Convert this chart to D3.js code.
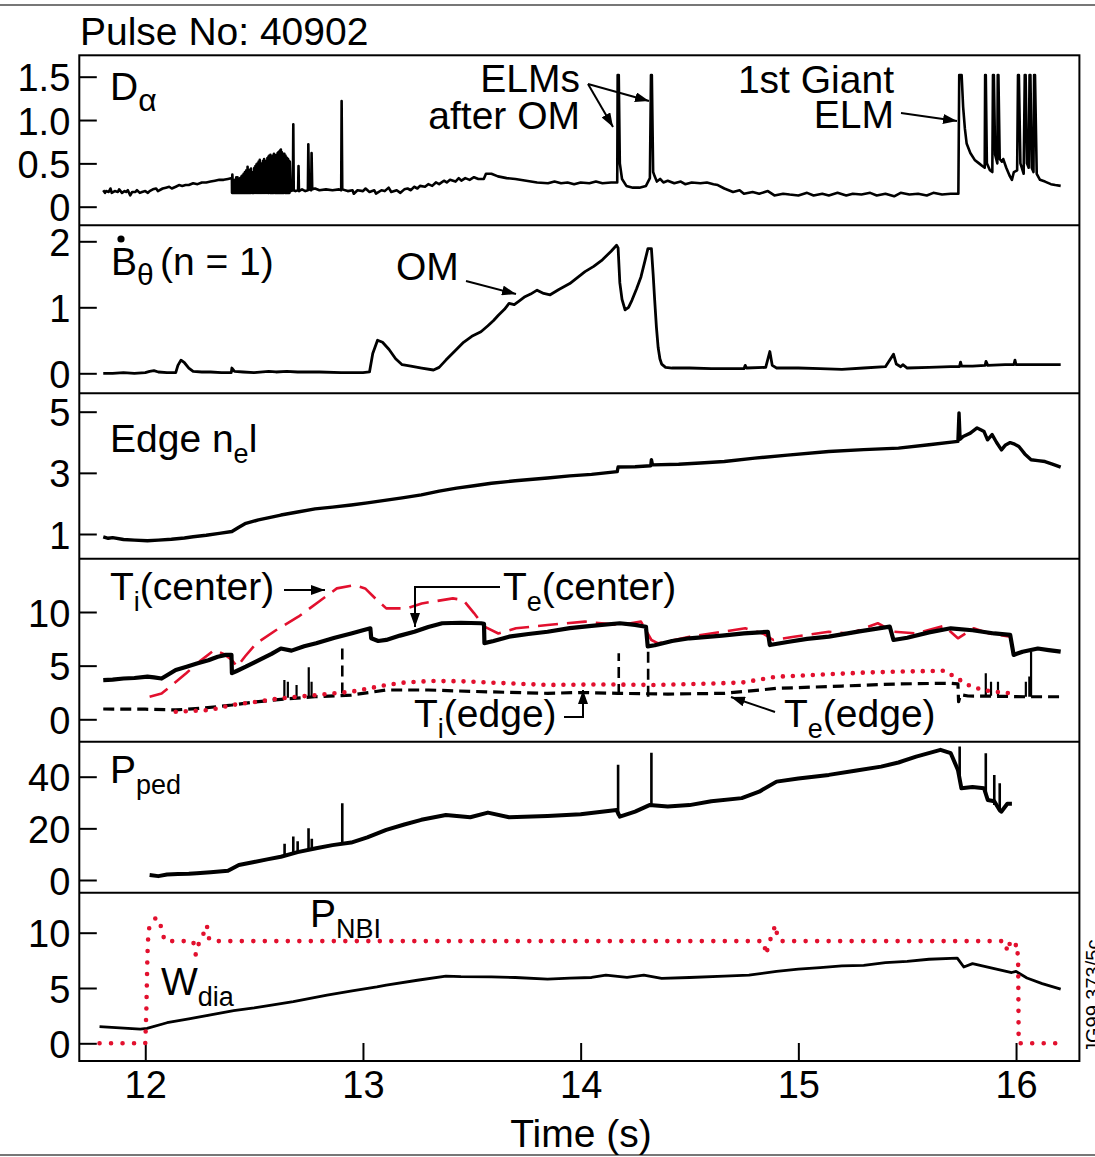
<!DOCTYPE html>
<html><head><meta charset="utf-8">
<script src="https://cdn.jsdelivr.net/npm/d3@7"></script>
<style>
body{margin:0;background:#fff;}
svg text{font-family:"Liberation Sans",Arial,Helvetica,sans-serif;fill:#000;}
</style></head><body>
<svg id="chart" width="1095" height="1157"></svg>
<script>
// ---------- data (time in s) ----------
const timeTicks = [12, 13, 14, 15, 16];
const dAlphaTicks = [0, 0.5, 1.0, 1.5];
const bDotTicks = [0, 1, 2];
const nelTicks = [1, 3, 5];
const tempTicks = [0, 5, 10];
const pPedTicks = [0, 20, 40];
const powerTicks = [0, 5, 10];

// D-alpha trace before the ELM burst
const dAlphaPre = [[11.807,0.19],[11.815,0.16],[11.82,0.18],[11.832,0.17],[11.84,0.21],[11.846,0.16],[11.86,0.18],[11.874,0.17],[11.88,0.20],[11.893,0.16],[11.905,0.18],[11.912,0.17],[11.92,0.19],[11.931,0.13],[11.94,0.17],[11.955,0.17],[11.962,0.19],[11.975,0.16],[11.985,0.17],[12.00,0.18],[12.012,0.16],[12.02,0.18],[12.035,0.20],[12.05,0.21],[12.058,0.18],[12.08,0.21],[12.095,0.22],[12.11,0.23],[12.122,0.21],[12.14,0.23],[12.155,0.25],[12.17,0.24],[12.185,0.25],[12.20,0.25],[12.22,0.27],[12.24,0.26],[12.26,0.28],[12.28,0.28],[12.30,0.29],[12.32,0.30],[12.34,0.31],[12.36,0.31],[12.38,0.32],[12.398,0.33]];
// dense small ELMs: [time, peak], base level dAlphaBurstBase
const dAlphaBurstBase = 0.16;
const dAlphaBurst = [[12.400,0.37],[12.406,0.30],[12.412,0.31],[12.418,0.34],[12.424,0.34],[12.430,0.30],[12.436,0.33],[12.442,0.35],[12.446,0.36],[12.452,0.38],[12.458,0.40],[12.464,0.42],[12.470,0.46],[12.474,0.41],[12.478,0.41],[12.482,0.43],[12.486,0.44],[12.491,0.40],[12.496,0.40],[12.501,0.45],[12.506,0.47],[12.511,0.49],[12.516,0.50],[12.521,0.52],[12.526,0.54],[12.531,0.50],[12.536,0.50],[12.541,0.53],[12.546,0.55],[12.551,0.53],[12.556,0.52],[12.561,0.56],[12.566,0.58],[12.570,0.59],[12.575,0.60],[12.579,0.57],[12.583,0.55],[12.587,0.59],[12.591,0.61],[12.596,0.60],[12.600,0.58],[12.604,0.60],[12.608,0.62],[12.612,0.63],[12.616,0.64],[12.620,0.65],[12.623,0.66],[12.627,0.63],[12.631,0.60],[12.635,0.61],[12.639,0.61],[12.644,0.59],[12.648,0.57],[12.652,0.56],[12.656,0.55],[12.660,0.53],[12.664,0.52]];
// D-alpha trace after the burst
const dAlphaPost = [[12.668,0.18],[12.678,0.19],[12.680,0.95],[12.682,0.19],[12.69,0.18],[12.702,0.19],[12.704,0.47],[12.706,0.18],[12.72,0.20],[12.735,0.18],[12.747,0.19],[12.749,0.72],[12.752,0.20],[12.762,0.19],[12.764,0.62],[12.767,0.20],[12.78,0.21],[12.80,0.19],[12.83,0.20],[12.86,0.19],[12.89,0.20],[12.900,0.19],[12.902,1.22],[12.905,0.20],[12.93,0.18],[12.952,0.19],[12.958,0.15],[12.975,0.19],[13.00,0.18],[13.012,0.21],[13.03,0.17],[13.052,0.19],[13.06,0.15],[13.085,0.19],[13.10,0.18],[13.118,0.22],[13.13,0.17],[13.155,0.19],[13.172,0.16],[13.19,0.20],[13.205,0.21],[13.22,0.19],[13.235,0.23],[13.25,0.21],[13.262,0.24],[13.285,0.23],[13.30,0.26],[13.318,0.24],[13.335,0.28],[13.35,0.26],[13.372,0.30],[13.385,0.28],[13.40,0.31],[13.425,0.29],[13.44,0.33],[13.452,0.30],[13.47,0.33],[13.49,0.31],[13.51,0.34],[13.53,0.32],[13.555,0.32],[13.565,0.38],[13.59,0.38],[13.62,0.35],[13.66,0.33],[13.70,0.32],[13.75,0.30],[13.80,0.28],[13.85,0.27],[13.88,0.29],[13.91,0.27],[13.94,0.28],[13.97,0.26],[14.00,0.28],[14.04,0.27],[14.07,0.29],[14.10,0.27],[14.14,0.28],[14.168,0.28],[14.170,1.52],[14.175,1.52],[14.180,0.50],[14.19,0.32],[14.21,0.24],[14.24,0.22],[14.27,0.22],[14.30,0.24],[14.318,0.33],[14.323,1.52],[14.327,1.52],[14.333,0.40],[14.34,0.35],[14.35,0.29],[14.365,0.32],[14.38,0.28],[14.40,0.30],[14.43,0.27],[14.46,0.29],[14.48,0.26],[14.51,0.28],[14.55,0.27],[14.58,0.28],[14.61,0.26],[14.63,0.25],[14.66,0.21],[14.70,0.17],[14.73,0.19],[14.75,0.15],[14.79,0.17],[14.82,0.15],[14.86,0.18],[14.89,0.13],[14.93,0.15],[14.96,0.14],[15.00,0.13],[15.04,0.16],[15.07,0.13],[15.11,0.15],[15.14,0.13],[15.18,0.16],[15.22,0.13],[15.25,0.15],[15.29,0.14],[15.33,0.16],[15.36,0.13],[15.40,0.15],[15.44,0.12],[15.47,0.16],[15.51,0.14],[15.55,0.15],[15.59,0.13],[15.62,0.16],[15.66,0.14],[15.70,0.15],[15.735,0.15],[15.739,1.52],[15.750,1.52],[15.757,1.15],[15.765,0.90],[15.773,0.73],[15.79,0.62],[15.81,0.54],[15.83,0.50],[15.845,0.47],[15.856,0.45],[15.858,1.52],[15.861,1.52],[15.866,0.50],[15.88,0.42],[15.891,0.40],[15.894,1.52],[15.898,1.52],[15.904,0.60],[15.914,0.50],[15.916,1.52],[15.919,1.52],[15.925,0.55],[15.935,0.52],[15.941,0.55],[15.955,0.45],[15.97,0.36],[15.981,0.31],[15.99,0.40],[16.005,0.42],[16.009,1.52],[16.013,1.52],[16.020,0.50],[16.035,0.38],[16.040,1.52],[16.044,1.52],[16.050,0.50],[16.058,0.45],[16.062,1.52],[16.066,1.52],[16.072,0.45],[16.080,0.40],[16.083,1.52],[16.087,1.52],[16.095,0.38],[16.11,0.31],[16.133,0.29],[16.16,0.26],[16.18,0.25],[16.205,0.24]];

// n = 1 magnetic perturbation
const bDot = [[11.807,0.0],[11.85,0.0],[11.9,0.01],[11.95,0.0],[12.0,0.01],[12.02,0.03],[12.04,0.04],[12.06,0.02],[12.1,0.01],[12.14,0.01],[12.15,0.12],[12.164,0.2],[12.18,0.16],[12.2,0.08],[12.22,0.03],[12.26,0.02],[12.3,0.02],[12.35,0.01],[12.395,0.01],[12.398,0.08],[12.41,0.03],[12.45,0.02],[12.5,0.01],[12.567,0.03],[12.6,0.02],[12.65,0.03],[12.7,0.02],[12.8,0.02],[12.9,0.01],[13.0,0.01],[13.03,0.02],[13.045,0.3],[13.067,0.5],[13.09,0.47],[13.12,0.36],[13.15,0.22],[13.18,0.13],[13.22,0.11],[13.27,0.08],[13.324,0.05],[13.35,0.09],[13.381,0.2],[13.42,0.33],[13.462,0.47],[13.5,0.56],[13.542,0.63],[13.574,0.72],[13.6,0.8],[13.622,0.88],[13.65,0.97],[13.671,1.06],[13.695,1.04],[13.72,1.1],[13.744,1.16],[13.77,1.2],[13.8,1.26],[13.83,1.21],[13.86,1.19],[13.9,1.27],[13.95,1.36],[14.02,1.54],[14.06,1.62],[14.1,1.72],[14.14,1.85],[14.165,1.94],[14.172,1.9],[14.18,1.37],[14.19,1.12],[14.204,0.96],[14.22,1.0],[14.236,1.11],[14.257,1.28],[14.277,1.46],[14.295,1.7],[14.309,1.89],[14.325,1.89],[14.333,1.5],[14.34,1.11],[14.348,0.7],[14.356,0.39],[14.364,0.22],[14.372,0.14],[14.39,0.09],[14.42,0.08],[14.5,0.08],[14.6,0.07],[14.7,0.07],[14.75,0.07],[14.756,0.12],[14.762,0.08],[14.85,0.09],[14.869,0.33],[14.88,0.12],[14.9,0.08],[15.0,0.08],[15.1,0.07],[15.2,0.06],[15.3,0.08],[15.4,0.1],[15.437,0.29],[15.45,0.14],[15.47,0.1],[15.48,0.13],[15.5,0.08],[15.6,0.09],[15.7,0.1],[15.74,0.1],[15.745,0.17],[15.75,0.11],[15.8,0.11],[15.858,0.12],[15.862,0.18],[15.87,0.12],[15.95,0.13],[15.99,0.13],[15.995,0.2],[16.0,0.13],[16.1,0.13],[16.205,0.13]];

// edge line-integrated density
const edgeNel = [[11.807,0.91],[11.83,0.86],[11.85,0.88],[11.9,0.82],[11.95,0.80],[12.01,0.78],[12.06,0.80],[12.12,0.83],[12.18,0.87],[12.22,0.91],[12.28,0.96],[12.34,1.02],[12.398,1.08],[12.43,1.22],[12.462,1.35],[12.52,1.46],[12.58,1.55],[12.623,1.62],[12.7,1.72],[12.78,1.82],[12.86,1.88],[12.946,1.95],[13.02,2.02],[13.1,2.1],[13.18,2.18],[13.268,2.28],[13.35,2.4],[13.43,2.5],[13.51,2.58],[13.59,2.66],[13.7,2.74],[13.848,2.83],[13.95,2.9],[14.05,2.95],[14.168,3.04],[14.172,3.19],[14.25,3.2],[14.322,3.23],[14.325,3.43],[14.33,3.26],[14.45,3.28],[14.55,3.32],[14.66,3.37],[14.8,3.48],[14.95,3.58],[15.14,3.70],[15.3,3.76],[15.46,3.81],[15.6,3.92],[15.733,4.03],[15.738,4.96],[15.743,4.1],[15.757,4.19],[15.79,4.3],[15.821,4.47],[15.84,4.4],[15.853,4.35],[15.869,4.08],[15.89,4.25],[15.91,4.0],[15.933,3.75],[15.95,3.9],[15.973,3.99],[15.99,3.95],[16.013,3.86],[16.04,3.62],[16.069,3.43],[16.1,3.4],[16.133,3.37],[16.17,3.28],[16.205,3.19]];

// central and edge temperatures
const teCenter = [[11.807,3.66],[11.85,3.7],[11.9,3.8],[11.95,3.85],[12.01,3.97],[12.04,3.9],[12.075,3.8],[12.1,4.1],[12.14,4.6],[12.19,4.9],[12.237,5.2],[12.29,5.5],[12.333,5.83],[12.37,6.0],[12.396,6.0],[12.398,4.3],[12.42,4.5],[12.462,4.9],[12.52,5.5],[12.58,6.1],[12.623,6.6],[12.672,6.4],[12.73,6.8],[12.785,7.08],[12.87,7.6],[12.946,8.0],[13.0,8.3],[13.034,8.48],[13.038,7.55],[13.07,7.3],[13.107,7.4],[13.17,7.8],[13.236,8.16],[13.3,8.6],[13.364,8.95],[13.45,9.0],[13.542,8.95],[13.556,8.9],[13.558,7.1],[13.6,7.3],[13.671,7.7],[13.76,7.95],[13.848,8.16],[13.95,8.5],[14.05,8.7],[14.18,8.95],[14.25,8.8],[14.30,8.63],[14.308,6.8],[14.34,6.9],[14.42,7.3],[14.5,7.55],[14.65,7.8],[14.75,8.0],[14.86,8.16],[14.869,6.92],[14.95,7.2],[15.04,7.5],[15.14,7.7],[15.28,8.2],[15.42,8.63],[15.437,7.39],[15.5,7.6],[15.6,8.1],[15.70,8.48],[15.8,8.3],[15.9,8.0],[15.973,7.86],[15.989,6.0],[16.03,6.3],[16.1,6.6],[16.15,6.45],[16.205,6.3]];
const tiCenter = [[12.02,2.1],[12.075,2.4],[12.13,3.3],[12.188,4.29],[12.25,5.4],[12.317,6.46],[12.36,6.1],[12.398,5.53],[12.422,4.9],[12.46,5.9],[12.51,7.08],[12.6,8.3],[12.703,9.56],[12.8,11.0],[12.88,12.2],[12.961,12.5],[13.01,12.2],[13.06,11.2],[13.107,10.34],[13.2,10.34],[13.27,10.8],[13.413,11.27],[13.461,11.1],[13.51,9.9],[13.558,8.63],[13.622,8.0],[13.703,8.48],[13.848,8.79],[14.02,9.1],[14.18,8.79],[14.277,9.1],[14.325,7.39],[14.356,7.08],[14.5,7.7],[14.756,8.48],[14.837,8.0],[14.885,7.39],[14.98,7.7],[15.14,8.16],[15.237,8.0],[15.365,8.95],[15.437,8.16],[15.541,8.0],[15.669,8.7],[15.733,7.55],[15.805,8.48],[15.877,8.0],[15.973,7.7]];
const tiEdge = [[12.14,0.71],[12.22,0.78],[12.30,0.87],[12.398,1.33],[12.5,1.6],[12.623,1.96],[12.785,2.26],[12.946,2.57],[13.02,2.85],[13.107,3.2],[13.2,3.45],[13.317,3.57],[13.45,3.55],[13.59,3.42],[13.848,3.2],[14.1,3.25],[14.34,3.2],[14.55,3.3],[14.74,3.42],[14.9,3.97],[15.14,4.2],[15.3,4.35],[15.46,4.44],[15.669,4.53],[15.717,3.97],[15.78,3.2],[15.845,2.73],[15.941,2.48],[15.989,2.42]];
const teEdge = [[11.807,0.96],[12.0,0.94],[12.14,0.87],[12.27,1.05],[12.398,1.33],[12.5,1.6],[12.623,1.86],[12.78,2.1],[12.946,2.26],[13.03,2.5],[13.107,2.73],[13.3,2.73],[13.5,2.6],[13.848,2.42],[14.0,2.5],[14.17,2.42],[14.4,2.35],[14.66,2.42],[14.9,2.88],[15.2,3.1],[15.46,3.3],[15.70,3.36],[15.733,3.3],[15.736,1.64],[15.745,2.3],[15.78,2.17],[15.9,2.15],[16.05,2.1],[16.205,2.1]];
// ELM spikes on the edge channels: [time, low, high]
const edgeSpikes = [[12.639,2.0,3.66],[12.655,2.0,3.5],[12.695,2.1,3.2],[12.751,2.1,4.85],[12.764,2.1,3.5],[15.861,2.2,4.29],[15.885,2.2,3.5],[15.917,2.2,3.5],[16.045,2.1,3.5],[16.061,2.1,4.0],[16.069,2.1,6.3]];
const edgeDropouts = [[12.905,2.4,6.77],[14.175,2.26,6.15],[14.31,2.1,6.8]];

// pedestal pressure
const pPed = [[12.02,1.9],[12.06,1.5],[12.1,2.1],[12.15,2.3],[12.2,2.4],[12.237,2.6],[12.3,3.0],[12.38,3.6],[12.43,5.8],[12.5,7.0],[12.56,8.0],[12.623,9.0],[12.7,10.8],[12.785,12.3],[12.86,13.5],[12.946,14.5],[13.02,16.5],[13.107,19.4],[13.19,21.5],[13.268,23.3],[13.381,25.2],[13.493,24.3],[13.574,26.1],[13.671,24.3],[13.848,24.8],[14.0,25.5],[14.165,27.1],[14.18,24.5],[14.25,26.5],[14.316,29],[14.4,28.5],[14.5,29],[14.6,30.5],[14.74,31.7],[14.82,34.2],[14.90,38.1],[15.0,39.3],[15.14,40.7],[15.26,42.3],[15.38,43.9],[15.46,45.5],[15.541,47.8],[15.653,50.4],[15.70,49.1],[15.733,42.6],[15.749,35.5],[15.8,36],[15.853,35.5],[15.87,31],[15.90,30.5],[15.925,27],[15.933,26.5],[15.96,29.5],[15.981,29.5]];
const pPedSpikes = [[12.64,9.2,14],[12.68,10,16.8],[12.70,10.5,15],[12.75,11.5,20],[12.765,11.8,16],[12.905,14,29.7],[14.172,25,44.6],[14.325,29,49.3],[15.741,40,51.7],[15.861,33,49.1],[15.90,29,40.7],[15.925,27,37.5]];

// stored energy and beam power
const wDia = [[11.79,1.5],[11.977,1.29],[12.008,1.35],[12.1,1.86],[12.2,2.2],[12.3,2.56],[12.406,2.95],[12.5,3.2],[12.58,3.45],[12.68,3.76],[12.835,4.36],[12.95,4.75],[13.064,5.1],[13.107,5.27],[13.25,5.7],[13.381,6.08],[13.45,6.02],[13.59,6.0],[13.7,5.95],[13.848,5.8],[13.95,5.9],[14.05,5.95],[14.116,6.17],[14.213,5.96],[14.29,6.17],[14.372,5.87],[14.5,5.95],[14.66,6.08],[14.773,6.17],[14.9,6.5],[15.0,6.7],[15.1,6.85],[15.2,7.0],[15.3,7.05],[15.4,7.3],[15.5,7.4],[15.6,7.6],[15.73,7.7],[15.76,6.9],[15.8,7.2],[15.9,6.75],[15.98,6.4],[16.0,6.5],[16.05,5.9],[16.12,5.4],[16.205,4.9]];
const pNbi = [[11.79,0],[12.0,0],[12.005,3],[12.01,8],[12.015,10.3],[12.03,10.8],[12.05,11.4],[12.07,10.7],[12.08,9.9],[12.09,9.24],[12.22,9.24],[12.232,8.0],[12.24,8.6],[12.25,9.3],[12.27,10.0],[12.283,10.7],[12.29,9.6],[12.3,9.24],[14.84,9.24],[14.853,8.0],[14.86,8.7],[14.875,9.6],[14.885,10.2],[14.895,10.7],[14.905,9.5],[14.92,9.24],[15.95,9.24],[15.96,8.3],[15.97,9.0],[15.98,8.5],[16.005,9.0],[16.01,7],[16.012,0],[16.21,0]];

// ---------- layout ----------
const svg = d3.select('#chart');
const RED = '#e2102e';
const LEFT = 79.3, RIGHT = 1079.4;
const FONT = '"Liberation Sans",Arial,sans-serif';
const x = d3.scaleLinear().domain([11.697, 16.291]).range([LEFT, RIGHT]);

const panels = [
  {top:55.3,  bottom:225.3,  y:d3.scaleLinear().domain([0,1.5]).range([206.7,76.7]), ticks:dAlphaTicks, fmt:d=>d===0?'0':d.toFixed(1)},
  {top:225.3, bottom:393.3,  y:d3.scaleLinear().domain([0,2]).range([373.3,241.3]),  ticks:bDotTicks},
  {top:393.3, bottom:558.7,  y:d3.scaleLinear().domain([1,5]).range([534,411.7]),    ticks:nelTicks},
  {top:558.7, bottom:741.7,  y:d3.scaleLinear().domain([0,10]).range([719.3,612]),    ticks:tempTicks},
  {top:741.7, bottom:892.7,  y:d3.scaleLinear().domain([0,40]).range([880,776.7]),    ticks:pPedTicks},
  {top:892.7, bottom:1061,   y:d3.scaleLinear().domain([0,10]).range([1043.3,932.7]), ticks:powerTicks}
];

const defs = svg.append('defs');
defs.append('marker').attr('id','arrow').attr('viewBox','0 0 14 10')
  .attr('refX',14).attr('refY',5).attr('markerWidth',14).attr('markerHeight',10)
  .attr('markerUnits','userSpaceOnUse').attr('orient','auto')
  .append('path').attr('d','M0,0L14,5L0,10z').attr('fill','#000');

panels.forEach((p,i)=>{
  defs.append('clipPath').attr('id','clip'+i).append('rect')
    .attr('x',LEFT).attr('y',p.top).attr('width',RIGHT-LEFT).attr('height',p.bottom-p.top);
  const ax = d3.axisLeft(p.y).tickValues(p.ticks).tickSize(-17.5).tickPadding(9);
  if (p.fmt) ax.tickFormat(p.fmt); else ax.tickFormat(d3.format('d'));
  const g = svg.append('g').attr('transform',`translate(${LEFT},0)`).call(ax);
  g.select('.domain').remove();
  g.selectAll('line').attr('stroke','#000').attr('stroke-width',2);
  g.selectAll('text').attr('font-size',38).attr('dy','0.37em').attr('font-family',FONT);
});

// bottom time axis
const xa = svg.append('g').attr('transform','translate(0,1061)')
  .call(d3.axisBottom(x).tickValues(timeTicks).tickSize(-18).tickPadding(10).tickFormat(d3.format('d')));
xa.select('.domain').remove();
xa.selectAll('line').attr('stroke','#000').attr('stroke-width',2);
xa.selectAll('text').attr('font-size',38).attr('font-family',FONT);

// frame and panel separators
svg.append('rect').attr('x',LEFT).attr('y',55.3).attr('width',RIGHT-LEFT).attr('height',1061-55.3)
  .attr('fill','none').attr('stroke','#000').attr('stroke-width',2);
panels.slice(1).forEach(p=>{
  svg.append('line').attr('x1',LEFT).attr('x2',RIGHT).attr('y1',p.top).attr('y2',p.top)
    .attr('stroke','#000').attr('stroke-width',2);
});
// page rules
svg.append('line').attr('x1',0).attr('x2',1095).attr('y1',5).attr('y2',5).attr('stroke','#777').attr('stroke-width',2);
svg.append('line').attr('x1',0).attr('x2',1095).attr('y1',1155).attr('y2',1155).attr('stroke','#777').attr('stroke-width',2);

function trace(i, data, style){
  const p = panels[i];
  const line = d3.line().x(d=>x(d[0])).y(d=>p.y(d[1]));
  const path = svg.append('path').attr('clip-path',`url(#clip${i})`)
    .attr('d', line(data)).attr('fill','none')
    .attr('stroke', style.color || '#000').attr('stroke-width', style.width || 2.5)
    .attr('stroke-linejoin','round');
  if (style.dash) path.attr('stroke-dasharray', style.dash);
  if (style.cap) path.attr('stroke-linecap', style.cap);
  return path;
}
function spikes(i, data, style){
  data.forEach(d=>trace(i, [[d[0],d[1]],[d[0],d[2]]], style));
}

// panel 1: D-alpha
const burstPts = [];
dAlphaBurst.forEach(d=>{ burstPts.push([d[0]-0.0015, dAlphaBurstBase], [d[0], d[1]]); });
trace(0, dAlphaPre.concat(burstPts, dAlphaPost), {width:2.6});
// panel 2
trace(1, bDot, {width:2.8});
// panel 3
trace(2, edgeNel, {width:3.4});
// panel 4
trace(3, teEdge, {width:3.2, dash:'11 6'});
spikes(3, edgeDropouts, {width:2.6, dash:'11 6'});
spikes(3, edgeSpikes, {width:2.2});
trace(3, tiEdge, {width:4.6, color:RED, dash:'0 10', cap:'round'});
trace(3, tiCenter, {width:2.6, color:RED, dash:'20 9'});
trace(3, teCenter, {width:4.2});
// panel 5
trace(4, pPed, {width:4});
spikes(4, pPedSpikes, {width:2.6});
// panel 6
trace(5, wDia, {width:2.8});
trace(5, pNbi, {width:4.6, color:RED, dash:'0 11.5', cap:'round'});

// ---------- labels ----------
function label(xp, yp, parts, anchor){
  const t = svg.append('text').attr('x',xp).attr('y',yp).attr('font-size',39);
  if (anchor) t.attr('text-anchor',anchor);
  let shift = 0;
  parts.forEach(pt=>{
    const s = t.append('tspan').text(pt.t);
    const want = pt.sub ? (pt.drop || 11) : 0;
    if (want !== shift) { s.attr('dy', want - shift); shift = want; }
    if (pt.sub) s.attr('font-size', pt.size || 27);
  });
  return t;
}
function arrow(x1,y1,x2,y2){
  svg.append('line').attr('x1',x1).attr('y1',y1).attr('x2',x2).attr('y2',y2)
    .attr('stroke','#000').attr('stroke-width',2).attr('marker-end','url(#arrow)');
}
function polyArrow(pts){
  svg.append('path').attr('d', d3.line()(pts)).attr('fill','none')
    .attr('stroke','#000').attr('stroke-width',2).attr('marker-end','url(#arrow)');
}

label(80, 45, [{t:'Pulse No: 40902'}]);

label(110, 100, [{t:'D'},{t:'α',sub:true,size:32}]);
label(580, 92, [{t:'ELMs'}], 'end');
label(580, 129, [{t:'after OM'}], 'end');
arrow(588,84,613,127);
arrow(588,84,649,101);
label(894, 93, [{t:'1st Giant'}], 'end');
label(894, 128, [{t:'ELM'}], 'end');
arrow(901,113,957,121);

label(111, 275, [{t:'B'},{t:'θ',sub:true,size:30,drop:10}]);
svg.append('circle').attr('cx',121).attr('cy',239).attr('r',3.6).attr('fill','#000');
label(160, 275, [{t:'(n = 1)'}]);
label(396, 280, [{t:'OM'}]);
arrow(466,281,516,294);

label(110, 452, [{t:'Edge n'},{t:'e',sub:true},{t:'l'}]);

label(110, 600, [{t:'T'},{t:'i',sub:true},{t:'(center)'}]);
arrow(284,590,325,590);
label(503, 600, [{t:'T'},{t:'e',sub:true},{t:'(center)'}]);
polyArrow([[500,587],[415,587],[415,627]]);
label(414, 727, [{t:'T'},{t:'i',sub:true},{t:'(edge)'}]);
polyArrow([[564,717],[583,717],[583,690]]);
label(784, 727, [{t:'T'},{t:'e',sub:true},{t:'(edge)'}]);
arrow(775,712,731,697);

label(110, 783, [{t:'P'},{t:'ped',sub:true}]);
label(310, 927, [{t:'P'},{t:'NBI',sub:true}]);
label(161, 995, [{t:'W'},{t:'dia',sub:true}]);

label(581, 1147, [{t:'Time (s)'}], 'middle');

svg.append('text').attr('transform','translate(1100,1053) rotate(-90)')
  .attr('font-size',20).text('JG99.373/5c');
</script>
</body></html>
